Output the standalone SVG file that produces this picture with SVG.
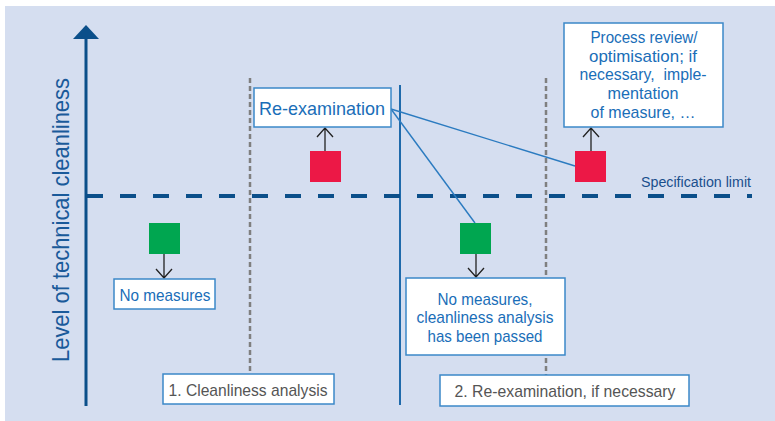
<svg xmlns="http://www.w3.org/2000/svg" width="775" height="421" viewBox="0 0 775 421">
<style>
.box{fill:#fff;stroke:#3B88C8;stroke-width:1.5}
.t{font-family:"Liberation Sans",Arial,sans-serif;fill:#1A6EB8;text-anchor:middle;font-size:17px}
.g{fill:#555;}
.red{fill:#EC1846}
.grn{fill:#00A650}
.arr{stroke:#222;stroke-width:1.3;fill:none}
.gray{stroke:#7F7F7F;stroke-width:2.5;stroke-dasharray:5 3;fill:none}
.conn{stroke:#2B7BC0;stroke-width:1.4;fill:none}
</style>
<rect x="0" y="0" width="775" height="421" fill="#fff"/>
<rect x="5" y="6" width="770" height="415" fill="#D5DEF0"/>
<g id="grid">
<line class="gray" x1="250" y1="78" x2="250" y2="374"/>
<line class="gray" x1="546" y1="78" x2="546" y2="375"/>
<line x1="400" y1="85" x2="400" y2="405" stroke="#1F6AAB" stroke-width="2"/>
<line x1="87" y1="196" x2="752" y2="196" stroke="#0B4F8A" stroke-width="4" stroke-dasharray="16 17"/>
</g>
<g id="axis">
<line x1="86" y1="36" x2="86" y2="406" stroke="#0B4F8A" stroke-width="3"/>
<polygon points="86,25 99,39 73,39" fill="#0B4F8A"/>
<text class="t" x="0" y="0" transform="translate(69,220) rotate(-90)" style="font-size:24px;fill:#1A5A9A" textLength="284" lengthAdjust="spacingAndGlyphs">Level of technical cleanliness</text>
</g>
<g id="spec">
<text class="t" x="751" y="187" style="font-size:14px;text-anchor:end;fill:#1A4F8C" textLength="110" lengthAdjust="spacingAndGlyphs">Specification limit</text>
</g>
<g id="connectors">
<line class="conn" x1="391" y1="109" x2="575" y2="166"/>
<line class="conn" x1="391" y1="109" x2="475" y2="223"/>
<path class="arr" d="M325,151 V128 M317,137 L325,128 L333,137"/>
<path class="arr" d="M591,151 V128 M583,137 L591,128 L599,137"/>
<path class="arr" d="M164,254 V278 M156,269 L164,278 L172,269"/>
<path class="arr" d="M476,254 V277 M468,268 L476,277 L484,268"/>
</g>
<g id="reexam">
<rect class="box" x="254" y="88" width="137" height="39"/>
<text class="t" x="322" y="115" style="font-size:19px" textLength="126" lengthAdjust="spacingAndGlyphs">Re-examination</text>
</g>
<g id="red1"><rect class="red" x="310" y="151" width="31" height="31"/></g>
<g id="red2"><rect class="red" x="575" y="151" width="31" height="31"/></g>
<g id="green1"><rect class="grn" x="149" y="223" width="31" height="31"/></g>
<g id="green2"><rect class="grn" x="460" y="223" width="31" height="31"/></g>
<g id="process">
<rect class="box" x="564" y="23" width="159" height="104"/>
<text class="t" x="644" y="43" textLength="107" lengthAdjust="spacingAndGlyphs">Process review/</text>
<text class="t" x="643" y="62" textLength="108" lengthAdjust="spacingAndGlyphs">optimisation; if</text>
<text class="t" x="643" y="80" textLength="127" lengthAdjust="spacingAndGlyphs">necessary,&#160; imple-</text>
<text class="t" x="643" y="99" textLength="71" lengthAdjust="spacingAndGlyphs">mentation</text>
<text class="t" x="643" y="118" textLength="105" lengthAdjust="spacingAndGlyphs">of measure, …</text>
</g>
<g id="nomeas1">
<rect class="box" x="114" y="279" width="101" height="30"/>
<text class="t" x="165" y="301" textLength="91" lengthAdjust="spacingAndGlyphs">No measures</text>
</g>
<g id="nomeas2">
<rect class="box" x="406" y="278" width="159" height="77"/>
<text class="t" x="485" y="305" textLength="95" lengthAdjust="spacingAndGlyphs">No measures,</text>
<text class="t" x="485" y="323" textLength="137" lengthAdjust="spacingAndGlyphs">cleanliness analysis</text>
<text class="t" x="485" y="342" textLength="115" lengthAdjust="spacingAndGlyphs">has been passed</text>
</g>
<g id="phase1">
<rect class="box" x="163" y="374" width="171" height="30"/>
<text class="t g" x="248" y="396" textLength="159" lengthAdjust="spacingAndGlyphs">1. Cleanliness analysis</text>
</g>
<g id="phase2">
<rect class="box" x="440" y="375" width="249" height="31"/>
<text class="t g" x="565" y="397" textLength="221" lengthAdjust="spacingAndGlyphs">2. Re-examination, if necessary</text>
</g>
</svg>
